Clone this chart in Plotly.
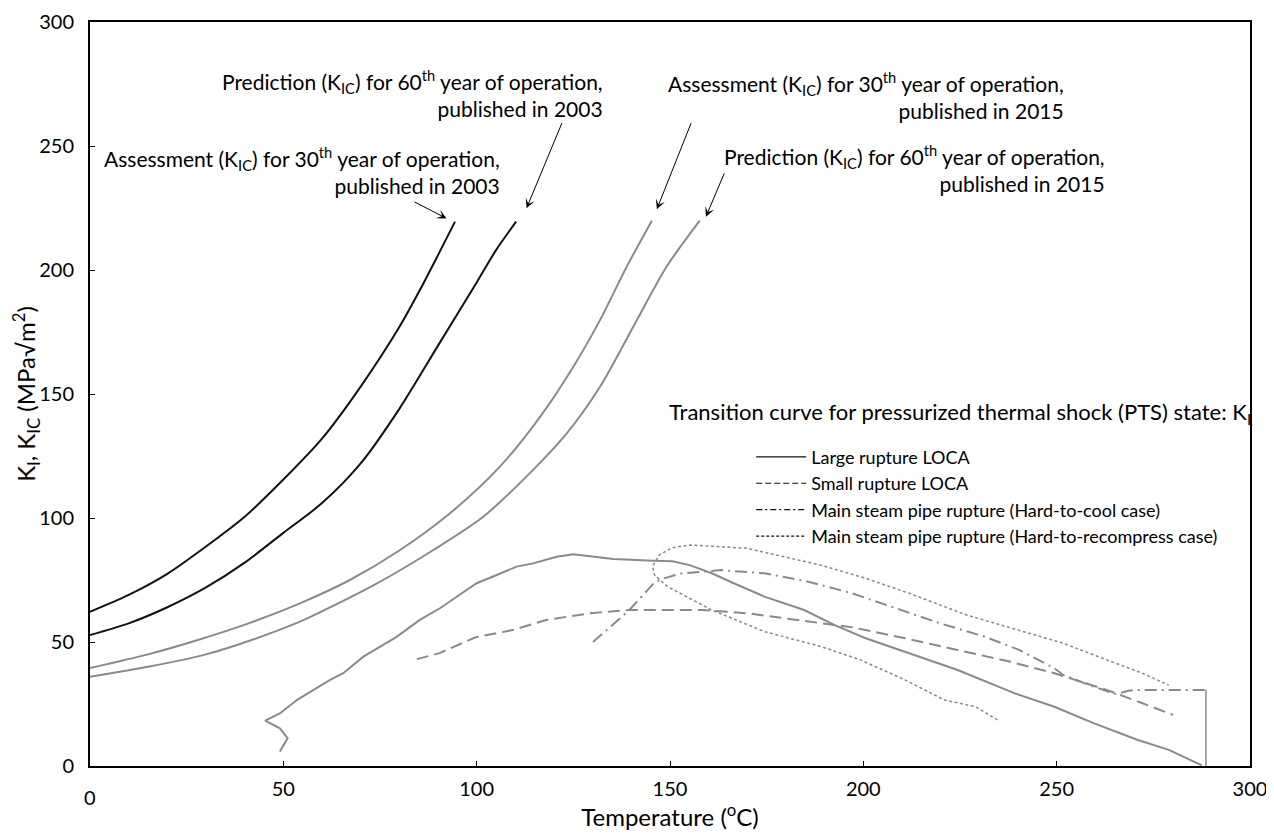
import plotly.graph_objects as go

# ---------------- data ----------------
x_ticks = [50, 100, 150, 200, 250, 300]
y_ticks = [0, 50, 100, 150, 200, 250, 300]

# K_IC curves
t_kic_30_2003 = [0, 10, 20, 30, 40, 50, 60, 70, 80, 85, 90, 94.4]
k_kic_30_2003 = [62.2, 69.0, 77.5, 88.5, 100.5, 115.5, 132.0, 153.0, 177.0, 191.0, 206.0, 219.5]

t_kic_60_2003 = [0, 10, 20, 30, 40, 50, 60, 70, 80, 90, 100, 105, 110.2]
k_kic_60_2003 = [52.8, 57.5, 64.0, 72.0, 82.0, 94.0, 106.0, 122.0, 144.0, 169.5, 195.0, 208.0, 219.5]

t_kic_30_2015 = [0, 15, 27.9, 41, 54.3, 67.2, 80.2, 93.1, 106, 116.4, 125, 131.9, 138.8, 145.3]
k_kic_30_2015 = [39.5, 45, 50.8, 57.5, 65.6, 75, 87.1, 101.9, 120.7, 140.8, 161, 179.8, 201.3, 219.9]

t_kic_60_2015 = [0, 15, 30, 41.8, 54.3, 59, 73.5, 88.8, 101.7, 114.6, 123.3, 131.9, 140.5, 149.1, 157.7]
k_kic_60_2015 = [36, 40, 45, 50.8, 58.2, 61.6, 73.0, 87.1, 100.5, 119.4, 134.1, 152.9, 177.1, 201.3, 219.9]

# PTS transition curves K_I
t_large_loca = [49.1, 51.1, 49.1, 45.3, 49.1, 53.5, 57.7, 62.1, 65.5, 70.7, 79.3, 85.3, 90.5, 94.8, 100,
                105.2, 110.3, 114.6, 120.7, 125, 129.3, 135.3, 145.7, 150.6, 155.1, 160.8, 166.5, 174.4,
                184.7, 192.6, 200.6, 210.8, 224.4, 239.2, 249.4, 259.7, 271, 279, 287.5]
k_large_loca = [5.8, 11.2, 15.2, 18.3, 21.2, 26.6, 30.6, 34.7, 37.4, 44.1, 52.1, 58.9, 63.6, 68.3, 73.7,
                77.0, 80.4, 81.7, 84.4, 85.4, 84.7, 83.5, 82.8, 82.6, 81.0, 77.7, 73.7, 68.3,
                62.9, 56.8, 51.5, 46.1, 38.7, 29.3, 23.9, 17.2, 10.5, 6.5, 0.3]

t_small_loca = [84.5, 90.2, 99.7, 109.3, 118, 129.3, 139.7, 152.8, 158.5, 169.9, 183.5, 197.2, 210.8,
                224.4, 238.1, 249.4, 263.1, 272.2, 280.1]
k_small_loca = [43.1, 45.4, 51.9, 54.8, 58.9, 61.6, 62.9, 62.9, 62.9, 61.6, 58.9, 55.9, 51.5,
                46.8, 42.0, 37.4, 30.6, 25.3, 20.6]

t_hard_cool = [130.1, 139.5, 145.8, 147.6, 152.8, 163.1, 174.4, 185.8, 197.2, 208.5, 219.9, 231.3,
               240.3, 249.4, 251.7, 258.5, 265.3, 268.8, 271, 288.6]
k_hard_cool = [50.0, 62.9, 73.7, 75.3, 77.6, 79.0, 77.7, 74.3, 69.6, 63.6, 57.5, 52.2,
               46.8, 39.4, 36.7, 32.6, 29.0, 30.4, 30.6, 30.6]

t_hard_cool_drop = [288.6, 288.6]
k_hard_cool_drop = [30.6, 0]

t_hard_recomp = [234.7, 229, 221, 210.8, 199.4, 189.2, 174.4, 160.8, 149.4, 146, 145.5, 147.2, 150.5,
                 155.1, 169.9, 189.2, 200.6, 211.9, 226.7, 240.3, 251.7, 263.1, 272.2, 279]
k_hard_recomp = [18.6, 23.9, 26.6, 34.7, 42.7, 48.1, 54.2, 62.9, 72.3, 77.0, 80.5, 85.1, 88.0,
                 89.1, 87.8, 80.9, 75.7, 69.6, 60.9, 54.8, 49.5, 42.7, 37.4, 32.6]

legend_names = ["Large rupture LOCA", "Small rupture LOCA",
                "Main steam pipe rupture (Hard-to-cool case)",
                "Main steam pipe rupture (Hard-to-recompress case)"]

# ---------------- figure ----------------
FONT = "Lato"
BLACK = "#111111"
GRAY = "#8a8a8a"
DASH = "12px,6px"
DASHDOT = "12px,5px,2px,5px"
DOT = "3px,2.5px"

fig = go.Figure()

for t, k, c in [(t_kic_30_2003, k_kic_30_2003, BLACK), (t_kic_60_2003, k_kic_60_2003, BLACK),
                (t_kic_30_2015, k_kic_30_2015, GRAY), (t_kic_60_2015, k_kic_60_2015, GRAY)]:
    fig.add_trace(go.Scatter(x=t, y=k, mode="lines",
                             line=dict(color=c, width=2, shape="spline", smoothing=0.8),
                             showlegend=False, hoverinfo="skip"))

fig.add_trace(go.Scatter(x=t_large_loca, y=k_large_loca, mode="lines",
                         line=dict(color=GRAY, width=2), showlegend=False))
fig.add_trace(go.Scatter(x=t_small_loca, y=k_small_loca, mode="lines",
                         line=dict(color=GRAY, width=2, dash=DASH), showlegend=False))
fig.add_trace(go.Scatter(x=t_hard_cool, y=k_hard_cool, mode="lines",
                         line=dict(color=GRAY, width=2, dash=DASHDOT), showlegend=False))
fig.add_trace(go.Scatter(x=t_hard_cool_drop, y=k_hard_cool_drop, mode="lines",
                         line=dict(color=GRAY, width=1.5), showlegend=False))
fig.add_trace(go.Scatter(x=t_hard_recomp, y=k_hard_recomp, mode="lines",
                         line=dict(color=GRAY, width=1.5, dash=DOT), showlegend=False))

# legend-only entries (black samples as in the original)
for name, d in zip(legend_names, ["solid", "6px,3px", "6px,3px,2px,3px", "3px,2px"]):
    fig.add_trace(go.Scatter(x=[None], y=[None], mode="lines", name=name,
                             line=dict(color=BLACK, width=1.2, dash=d)))

# text annotations
ann_font = dict(family=FONT, size=21, color="black")
labels = [
    ("Assessment (K<sub>IC</sub>) for 30<sup>th</sup> year of operation,<br>published in 2003", 106.5, 240.1),
    ("Prediction (K<sub>IC</sub>) for 60<sup>th</sup> year of operation,<br>published in 2003", 133.2, 271.2),
    ("Assessment (K<sub>IC</sub>) for 30<sup>th</sup> year of operation,<br>published in 2015", 252.4, 270.4),
    ("Prediction (K<sub>IC</sub>) for 60<sup>th</sup> year of operation,<br>published in 2015", 263.0, 241.1),
]
for txt, x, y in labels:
    fig.add_annotation(x=x, y=y, xref="x", yref="y", text=txt, showarrow=False,
                       xanchor="right", yanchor="middle", align="right", font=ann_font)

arrows = [((92.2, 220.8), (83.5, 227.8)), ((112.9, 224.9), (122.2, 259.8)),
          ((146.6, 224.5), (155.6, 259.8)), ((159.3, 221.5), (164.2, 239.6))]
for (hx, hy), (tx, ty) in arrows:
    fig.add_annotation(x=hx, y=hy, ax=tx, ay=ty, xref="x", yref="y", axref="x", ayref="y",
                       text="", showarrow=True, arrowhead=3, arrowsize=1.6, arrowwidth=1,
                       arrowcolor="black")

fig.add_annotation(x=149.2, y=142.3, xref="x", yref="y", showarrow=False, xanchor="left",
                   yanchor="middle",
                   text="Transition curve for pressurized thermal shock (PTS) state: K<sub>I</sub>",
                   font=dict(family=FONT, size=22, color="black"))

fig.add_annotation(x=0, y=0, xref="x", yref="paper", showarrow=False, text="0",
                   xanchor="center", yanchor="top", yshift=-17,
                   font=dict(family=FONT, size=20, color="black"))

fig.update_xaxes(range=[0, 300], tickvals=x_ticks, ticks="inside", ticklen=5, tickwidth=1,
                 tickcolor="black", showline=True, linewidth=2, linecolor="black", mirror=True,
                 showgrid=False, zeroline=False, automargin=False, ticklabelstandoff=4,
                 ticklabeloverflow="allow",
                 title=dict(text="Temperature (<sup>o</sup>C)", standoff=14))
fig.update_yaxes(range=[0, 300], tickvals=y_ticks, ticks="inside", ticklen=5, tickwidth=1,
                 tickcolor="black", showline=True, linewidth=2, linecolor="black", mirror=True,
                 showgrid=False, zeroline=False, automargin=False, ticklabelstandoff=10,
                 ticklabeloverflow="allow",
                 title=dict(text="K<sub>I</sub>, K<sub>IC</sub> (MPa√m<sup>2</sup>)", standoff=14))

# the page body adds an 8px offset, so the figure is sized to fit inside the window
fig.update_layout(
    width=1258, height=823,
    margin=dict(l=82, r=16, t=14, b=65),
    plot_bgcolor="white", paper_bgcolor="white",
    font=dict(family=FONT, size=20, color="black"),
    showlegend=True,
    legend=dict(x=0.57, y=0.44, xanchor="left", yanchor="top", font=dict(size=18),
                bgcolor="rgba(0,0,0,0)", tracegroupgap=0, itemwidth=50),
)

fig.write_html("out.html")
